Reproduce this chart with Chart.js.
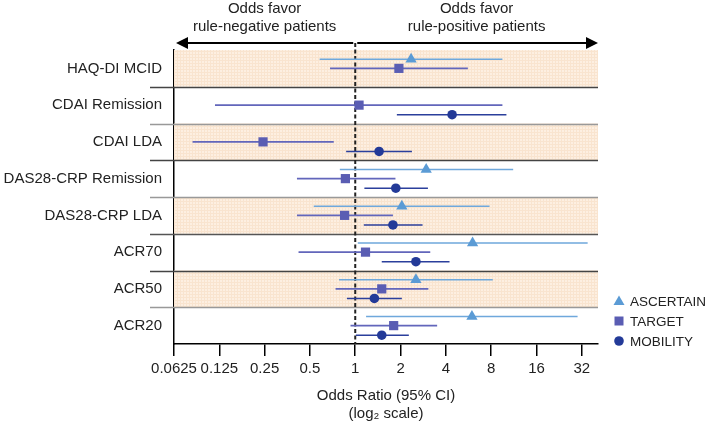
<!DOCTYPE html>
<html>
<head>
  <title>Odds Ratio Forest Plot</title>
  <style>
    body {
      margin: 0;
      background-color: #FFF;
    }

    #wrap {
      width: 708px;
      height: 427px;
    }
  </style>
</head>
<body>
  <div id="wrap"><canvas id="chart" width="708" height="427"></canvas></div>

  <script src="https://cdn.jsdelivr.net/npm/chart.js"></script>

  <script>
    // Outcomes, top to bottom
    var outcomes = ['HAQ-DI MCID', 'CDAI Remission', 'CDAI LDA', 'DAS28-CRP Remission',
                    'DAS28-CRP LDA', 'ACR70', 'ACR50', 'ACR20'];

    // x axis ticks (log2 scale)
    var xTicks = [0.0625, 0.125, 0.25, 0.5, 1, 2, 4, 8, 16, 32];
    var xTickLabels = ['0.0625', '0.125', '0.25', '0.5', '1', '2', '4', '8', '16', '32'];

    // Odds ratios with 95% CI, one value per outcome (null = not reported)
    var ascertainOR   = [2.35, null, null, 2.96, 2.04, 6.02, 2.53, 5.96];
    var ascertainLow  = [0.58, null, null, 0.79, 0.53, 1.04, 0.78, 1.18];
    var ascertainHigh = [9.5,  null, null, 11.2, 7.8,  35,   8.2,  30];

    var targetOR   = [1.95, 1.06,  0.244, 0.86, 0.85, 1.17, 1.5,  1.8];
    var targetLow  = [0.68, 0.117, 0.083, 0.41, 0.41, 0.42, 0.74, 0.93];
    var targetHigh = [5.6,  9.5,   0.72,  1.85, 1.78, 3.15, 3.06, 3.5];

    var mobilityOR   = [null, 4.4,  1.44, 1.86, 1.78, 2.53, 1.34, 1.5];
    var mobilityLow  = [null, 1.89, 0.87, 1.15, 1.14, 1.5,  0.88, 1.01];
    var mobilityHigh = [null, 10.1, 2.38, 3.04, 2.8,  4.23, 2.04, 2.27];

    var FONT = "'Liberation Sans', Arial, sans-serif";

    // series styling
    var series = [
      { name: 'ASCERTAIN', or: ascertainOR, low: ascertainLow, high: ascertainHigh,
        offset: -0.25, style: 'triangle', radius: 6.5, color: '#5B9BD5', line: '#6FA8DC' },
      { name: 'TARGET', or: targetOR, low: targetLow, high: targetHigh,
        offset: 0, style: 'rect', radius: 6.5, color: '#5A5DB3', line: '#6266BB' },
      { name: 'MOBILITY', or: mobilityOR, low: mobilityLow, high: mobilityHigh,
        offset: 0.26, style: 'circle', radius: 4.8, color: '#233A98', line: '#2B3F9C' }
    ];

    // Build CI lines (segments broken by null points) and marker points
    function ciData(s) {
      var pts = [];
      for (var i = 0; i < outcomes.length; i++) {
        if (s.low[i] === null) continue;
        pts.push({ x: s.low[i], y: i + s.offset });
        pts.push({ x: s.high[i], y: i + s.offset });
        pts.push({ x: null, y: null });
      }
      return pts;
    }

    function markerData(s) {
      var pts = [];
      for (var i = 0; i < outcomes.length; i++) {
        if (s.or[i] === null) continue;
        pts.push({ x: s.or[i], y: i + s.offset });
      }
      return pts;
    }

    var datasets = [];
    series.forEach(function(s) {
      datasets.push({
        label: s.name + ' CI',
        data: ciData(s),
        showLine: true,
        spanGaps: false,
        borderColor: s.line,
        borderWidth: 1.6,
        pointRadius: 0,
        order: 2
      });
    });
    series.forEach(function(s) {
      datasets.push({
        label: s.name,
        data: markerData(s),
        pointStyle: s.style,
        pointRadius: s.radius,
        backgroundColor: s.color,
        borderColor: s.color,
        borderWidth: 0,
        order: 1
      });
    });

    // light orange band pattern with a fine grid
    function bandPattern(ctx) {
      var c = document.createElement('canvas');
      c.width = 3;
      c.height = 3;
      var p = c.getContext('2d');
      p.fillStyle = '#FDEFE1';
      p.fillRect(0, 0, 3, 3);
      p.fillStyle = '#F9E4CF';
      p.fillRect(0, 0, 3, 1);
      p.fillRect(0, 0, 1, 3);
      return ctx.createPattern(c, 'repeat');
    }

    var separatorColors = ['#444', '#999', '#444', '#999', '#555', '#444', '#999'];

    var decorPlugin = {
      id: 'decor',
      beforeDatasetsDraw: function(chart) {
        var ctx = chart.ctx;
        var area = chart.chartArea;
        var xs = chart.scales.x;
        var ys = chart.scales.y;
        ctx.save();

        // shaded bands
        ctx.fillStyle = bandPattern(ctx);
        for (var i = 0; i < outcomes.length; i += 2) {
          var top = ys.getPixelForValue(i - 0.5);
          var bottom = ys.getPixelForValue(i + 0.5);
          ctx.fillRect(area.left, top, area.right - area.left, bottom - top);
        }

        // row separators (extend left of the axis as ticks)
        ctx.lineWidth = 1.5;
        for (var j = 0; j < outcomes.length - 1; j++) {
          var yy = Math.round(ys.getPixelForValue(j + 0.5)) + 0.5;
          ctx.strokeStyle = separatorColors[j];
          ctx.beginPath();
          ctx.moveTo(area.left - 24, yy);
          ctx.lineTo(area.right, yy);
          ctx.stroke();
        }

        // reference line at OR = 1
        var x1 = xs.getPixelForValue(1);
        ctx.strokeStyle = '#222';
        ctx.lineWidth = 2;
        ctx.setLineDash([4, 2.5]);
        ctx.beginPath();
        ctx.moveTo(x1, 43);
        ctx.lineTo(x1, area.bottom);
        ctx.stroke();
        ctx.restore();
      },
      afterDraw: function(chart) {
        var ctx = chart.ctx;
        var area = chart.chartArea;
        var x1 = chart.scales.x.getPixelForValue(1);
        ctx.save();

        // header text
        ctx.fillStyle = '#222';
        ctx.font = '15px ' + FONT;
        ctx.textAlign = 'center';
        ctx.textBaseline = 'middle';
        var leftMid = (area.left + x1) / 2;
        var rightMid = (x1 + area.right) / 2;
        ctx.fillText('Odds favor', leftMid, 9);
        ctx.fillText('rule-negative patients', leftMid, 27);
        ctx.fillText('Odds favor', rightMid, 9);
        ctx.fillText('rule-positive patients', rightMid, 27);

        // arrows
        var ay = 43;
        ctx.strokeStyle = '#000';
        ctx.fillStyle = '#000';
        ctx.lineWidth = 2;
        ctx.beginPath();
        ctx.moveTo(area.left + 10, ay);
        ctx.lineTo(x1 - 2, ay);
        ctx.moveTo(x1 + 2, ay);
        ctx.lineTo(area.right - 10, ay);
        ctx.stroke();
        ctx.beginPath();
        ctx.moveTo(area.left + 2, ay);
        ctx.lineTo(area.left + 14, ay - 6);
        ctx.lineTo(area.left + 14, ay + 6);
        ctx.closePath();
        ctx.fill();
        ctx.beginPath();
        ctx.moveTo(area.right, ay);
        ctx.lineTo(area.right - 12, ay - 6);
        ctx.lineTo(area.right - 12, ay + 6);
        ctx.closePath();
        ctx.fill();

        // legend
        ctx.font = '13.5px ' + FONT;
        ctx.textAlign = 'left';
        series.forEach(function(s, k) {
          var ly = 301 + k * 20;
          var lx = 619;
          ctx.fillStyle = s.color;
          ctx.beginPath();
          if (s.style === 'triangle') {
            ctx.moveTo(lx, ly - 5.5);
            ctx.lineTo(lx + 5.5, ly + 4);
            ctx.lineTo(lx - 5.5, ly + 4);
            ctx.closePath();
          } else if (s.style === 'rect') {
            ctx.rect(lx - 4.5, ly - 4.5, 9, 9);
          } else {
            ctx.arc(lx, ly, 4.8, 0, Math.PI * 2);
          }
          ctx.fill();
          ctx.fillStyle = '#222';
          ctx.fillText(s.name, 630, ly + 1);
        });
        ctx.restore();
      }
    };

    var chartElement = document.getElementById('chart').getContext('2d');
    var myChart = new Chart(chartElement, {
      type: 'scatter',
      data: { datasets: datasets },
      options: {
        responsive: false,
        animation: false,
        layout: { padding: { top: 50, right: 110, left: 0, bottom: 0 } },
        plugins: {
          legend: { display: false },
          tooltip: { enabled: false }
        },
        scales: {
          x: {
            type: 'logarithmic',
            min: 0.0625,
            max: 41,
            afterBuildTicks: function(scale) {
              scale.ticks = xTicks.map(function(v) { return { value: v }; });
            },
            afterFit: function(scale) { scale.height = 83; },
            ticks: {
              autoSkip: false,
              maxRotation: 0,
              minRotation: 0,
              padding: 4,
              color: '#222',
              font: { family: FONT, size: 15 },
              callback: function(value, index) { return xTickLabels[index]; }
            },
            grid: {
              drawOnChartArea: false,
              tickLength: 12,
              color: '#000',
              lineWidth: 1.5
            },
            border: { display: true, color: '#000', width: 1.5 },
            title: {
              display: true,
              text: ['Odds Ratio (95% CI)', '(log\u2082 scale)'],
              color: '#222',
              font: { family: FONT, size: 15, lineHeight: 1.15 },
              padding: { top: 0, bottom: 5 }
            }
          },
          y: {
            type: 'linear',
            reverse: true,
            min: -0.5,
            max: 7.5,
            afterBuildTicks: function(scale) {
              scale.ticks = outcomes.map(function(o, i) { return { value: i }; });
            },
            afterFit: function(scale) { scale.width = 174; },
            ticks: {
              padding: 12,
              color: '#222',
              font: { family: FONT, size: 15 },
              callback: function(value, index) { return outcomes[index]; }
            },
            grid: { display: false, drawTicks: false },
            border: { display: true, color: '#000', width: 1.5 }
          }
        }
      },
      plugins: [decorPlugin]
    });
  </script>
</body>
</html>
